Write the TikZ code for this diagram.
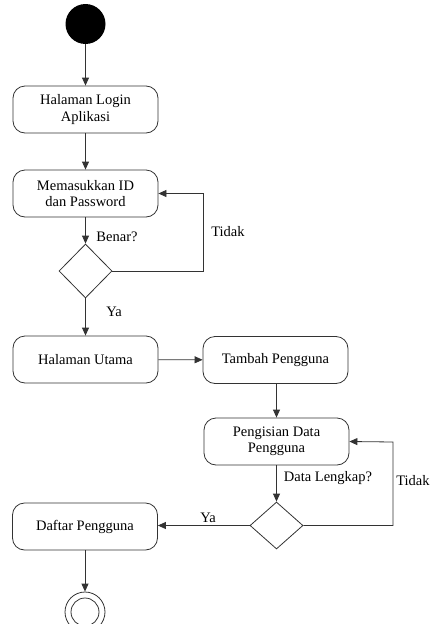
\documentclass[tikz,border=0pt]{standalone}
\usepackage{fontspec}
\setmainfont{Liberation Serif}
\usetikzlibrary{arrows.meta,shapes.geometric}
\begin{document}
\begin{tikzpicture}[x=1pt,y=-1pt,
  font=\fontsize{14.5}{16.5}\selectfont,
  line/.style={draw=black!80, line width=0.8pt},
  flow/.style={line, -{Triangle[length=8pt,width=7pt]}},
  activity/.style={line, rectangle, rounded corners=12pt, minimum width=145pt,
    minimum height=47pt, align=center, inner sep=2pt},
  choice/.style={line, diamond, minimum width=53pt, minimum height=54pt, inner sep=0pt},
  lbl/.style={inner sep=0pt}]
\useasboundingbox (0,0) rectangle (433,624);

% initial and final states
\node (start) [circle, fill=black, minimum size=40pt, inner sep=0pt] at (85.5,24) {};
\node (login) [activity] at (85.5,109.5) {Halaman Login\\Aplikasi};
\node (input) [activity] at (85.5,193.5) {Memasukkan ID\\dan Password};
\node (cek1) [choice] at (85.5,271) {};
\node (utama) [activity] at (85.5,359.5) {Halaman Utama};
\node (tambah) [activity] at (275.5,360) {Tambah Pengguna};
\node (isi) [activity] at (276.5,441.5) {Pengisian Data\\Pengguna};
\node (cek2) [choice, minimum height=47pt] at (276.5,525.5) {};
\node (daftar) [activity] at (85,526.5) {Daftar Pengguna};
\node (end) [circle, line, minimum size=40pt, inner sep=0pt] at (85,612) {};
\node (endin) [circle, line, minimum size=28pt, inner sep=0pt] at (end.center) {};

% control flow
\draw[flow] (start) -- (login);
\draw[flow] (login) -- (input);
\draw[flow] (input) -- (cek1.north);
\draw[flow] (cek1.east) -| (203,193.5) -- (input.east);
\draw[flow] (cek1.south) -- (utama);
\draw[flow] (utama) -- (tambah);
\draw[flow] (tambah.south -| isi) -- (isi);
\draw[flow] (isi) -- (cek2.north);
\draw[flow] (cek2.east) -| (393,442) -- (isi.east);
\draw[flow] (cek2.west) -- (cek2.west -| daftar.east);
\draw[flow] (daftar) -- (end);

% guard labels
\node (lbenar) [lbl] at (117,237) {Benar?};
\node (ltidak1) [lbl] at (228,232) {Tidak};
\node (lya1) [lbl] at (114,312) {Ya};
\node (llengkap) [lbl] at (328,478) {Data Lengkap?};
\node (ltidak2) [lbl] at (413,481) {Tidak};
\node (lya2) [lbl] at (208,518) {Ya};
\end{tikzpicture}
\end{document}
